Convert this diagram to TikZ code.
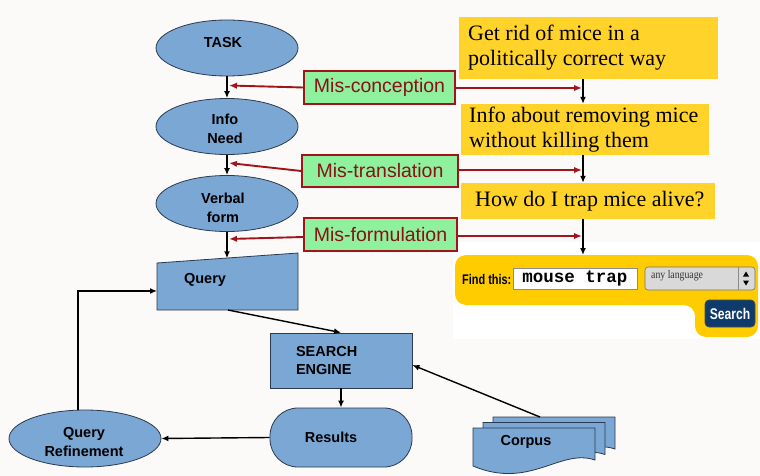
\documentclass[tikz,border=0pt]{standalone}
\usepackage{fontspec}
\setmainfont{Liberation Sans}
\newfontfamily\seriff{Liberation Serif}
\newfontfamily\monof{Liberation Mono}
\newfontfamily\narrowf[FakeStretch=0.78]{Liberation Sans}
\newfontfamily\narrowserif[FakeStretch=0.85]{Liberation Serif}
\usetikzlibrary{shapes.geometric,arrows.meta}
\definecolor{bgc}{HTML}{FBFAF8}
\definecolor{blu}{HTML}{7BA7D5}
\definecolor{bord}{HTML}{2B3A4F}
\definecolor{grn}{HTML}{8FF09E}
\definecolor{dred}{HTML}{A0141A}
\definecolor{ylw}{HTML}{FFD32A}
\definecolor{ylwb}{HTML}{FFCC00}
\definecolor{navy}{HTML}{0F3A6C}
\tikzset{
  ell/.style={ellipse, draw=bord, fill=blu, line width=0.8pt, minimum width=142, minimum height=56, inner sep=0pt},
  bluebox/.style={rectangle, draw=bord, fill=blu, line width=0.8pt, inner sep=0pt, font=\bfseries\fontsize{14.5}{18}\selectfont},
  mis/.style={rectangle, draw=dred, line width=1.6pt, fill=grn, text=dred!85!black, inner sep=0pt, font=\fontsize{19.5}{22}\selectfont},
  ybox/.style={rectangle, fill=ylw, inner sep=0pt},
  ytext/.style={anchor=west, inner sep=0pt, align=left, font=\seriff\fontsize{22}{25}\selectfont},
  arr/.style={-{Latex[length=7,width=6]}, line width=1.4pt, black},
  rarr/.style={-{Latex[length=8,width=6.5]}, line width=1.9pt, dred},
  lbl/.style={font=\bfseries\fontsize{14.5}{19}\selectfont, inner sep=0pt, align=center}
}
\begin{document}
\begin{tikzpicture}[x=1pt,y=-1pt]
\useasboundingbox (0,0) rectangle (760,476);
\fill[bgc] (0,0) rectangle (760,476);
\fill[white] (453,242) rectangle (760,339);

% left column ellipses
\node[ell] (task) at (227,48) {};
\node[lbl] (taskt) at (223,43) {TASK};
\node[ell] (info) at (227,126.5) {};
\node[lbl] (infot) at (225,129) {Info\\Need};
\node[ell] (verbal) at (227,203.5) {};
\node[lbl] (verbalt) at (223,207.5) {Verbal\\form};

% Query manual input shape
\draw[fill=blu, draw=bord, line width=0.8pt] (157,263) -- (298,253) -- (298,310) -- (157,310) -- cycle;
\node[lbl] (query) at (205,280) {Query};
\coordinate (qtop) at (227,258.3);
\coordinate (qbot) at (228,310);
\coordinate (qleft) at (157,291);

% search engine
\node[bluebox, minimum width=142, minimum height=55, text width=90, inner xsep=26, align=left] (se) at (341,360.5) {SEARCH\\ENGINE};

% results
\node[bluebox, minimum width=142, minimum height=59, rounded corners=28] (res) at (341,437.5) {\hspace*{-20pt}Results};

% query refinement
\node[ell, minimum width=152, minimum height=57] (qr) at (85,438.5) {};
\node[lbl] (qrt) at (84,442) {Query\\Refinement};

% corpus stack
\foreach \dx/\dy in {20/-11,10/-5.5,0/0}{
  \begin{scope}[shift={(\dx,\dy)}]
    \draw[fill=blu, draw=bord, line width=0.8pt] (473,428) -- (595,428) -- (595,460)
      .. controls (560,448) and (530,490) .. (473,466) -- cycle;
  \end{scope}
}
\node[lbl] (corpus) at (526,442) {Corpus};
\coordinate (ctop) at (540,417);

% misc boxes
\node[mis, minimum width=151, minimum height=33] (mc) at (379.5,87.5) {Mis-conception};
\node[mis, minimum width=156, minimum height=32] (mt) at (380,171) {Mis-translation};
\node[mis, minimum width=153, minimum height=33] (mf) at (380.5,234.5) {Mis-formulation};

% yellow boxes
\node[ybox, minimum width=259, minimum height=62] (y1) at (588.5,48) {};
\node[ytext] (y1t) at (468,48) {Get rid of mice in a\\politically correct way};
\node[ybox, minimum width=248, minimum height=51] (y2) at (585,129.5) {};
\node[ytext] (y2t) at (469,129.5) {Info about removing mice\\without killing them};
\node[ybox, minimum width=254, minimum height=36] (y3) at (588,201) {};
\node[ytext] (y3t) at (475,201) {How do I trap mice alive?};

% search widget
\fill[ylwb, rounded corners=11] (455,255) -- (758,255) -- (758,337) -- (695,337) -- (695,305) -- (455,305) -- cycle;
\coordinate (wtop) at (583,255);
\node[font=\narrowf\bfseries\fontsize{14}{15}\selectfont, inner sep=0pt, anchor=west] (find) at (462,279) {Find this:};
\node[rectangle, fill=white, draw=black!45, line width=0.6pt, minimum width=124, minimum height=21, inner sep=0pt, font=\monof\bfseries\fontsize{17.5}{19}\selectfont] (mtrap) at (575,278.5) {mouse trap};
\node[rectangle, fill=black!15, draw=black!55, line width=0.6pt, rounded corners=3, minimum width=110, minimum height=23, inner sep=0pt] (lang) at (700,278.5) {};
\node[font=\narrowserif\fontsize{11.5}{13}\selectfont, inner sep=0pt, anchor=west, text=black!80] (langtxt) at (651,275.5) {any language};
\draw[black!45, line width=0.6pt] (738,267) -- (738,290);
\fill[black] (743,276.5) -- (749,276.5) -- (746,271.5) -- cycle;
\fill[black] (743,280.5) -- (749,280.5) -- (746,285.5) -- cycle;
\node[rectangle, fill=navy, draw=black!70, line width=0.6pt, rounded corners=4, minimum width=50, minimum height=27, inner sep=0pt, text=white, font=\narrowf\bfseries\fontsize{15.5}{17}\selectfont] (search) at (730,313.5) {Search};

% black arrows left
\draw[arr] (task.south) -- (info.north);
\draw[arr] (info.south) -- (verbal.north);
\draw[arr] (verbal.south) -- (qtop);
\draw[arr] (qbot) -- (se.north);
\draw[arr] (se.south) -- (res.north);
\draw[arr] (res.west) -- (qr.east);
\draw[arr] ([xshift=-7pt]qr.north) |- (qleft);
\draw[arr] (ctop) -- ([yshift=-4.5pt]se.east);

% black arrows right
\draw[arr] (y1.south -| wtop) -- (y2.north -| wtop);
\draw[arr] (y2.south -| wtop) -- (y3.north -| wtop);
\draw[arr] (y3.south -| wtop) -- (wtop);

% red arrows
\coordinate (l1) at (229,85.5);
\coordinate (l2) at (229,163);
\coordinate (l3) at (229,239);
\draw[rarr] (mc.west) -- (l1);
\draw[rarr] (mt.west) -- (l2);
\draw[rarr] ([yshift=-2.5pt]mf.west) -- (l3);
\coordinate (r1) at (582,88);
\coordinate (r2) at (582,170);
\coordinate (r3) at (582,236);
\draw[rarr] (mc.east |- r1) -- (r1);
\draw[rarr] (mt.east |- r2) -- (r2);
\draw[rarr] (mf.east |- r3) -- (r3);
\end{tikzpicture}
\end{document}
